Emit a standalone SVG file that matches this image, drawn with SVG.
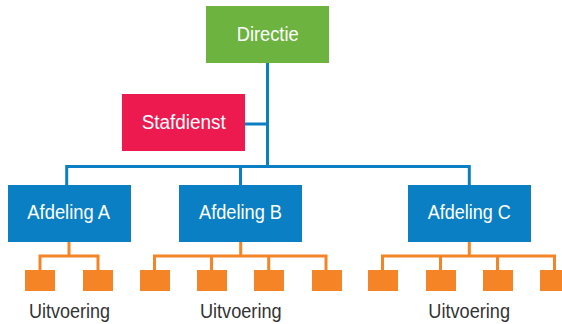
<svg xmlns="http://www.w3.org/2000/svg" width="562" height="324" viewBox="0 0 562 324">
<style>
.box text{font-family:"Liberation Sans",Arial,sans-serif;font-size:20px;fill:#ffffff;text-anchor:middle}
.lbl{font-family:"Liberation Sans",Arial,sans-serif;font-size:20px;fill:#333333;text-anchor:middle}
.blue{fill:none;stroke:#0a7fc4;stroke-width:3}
.orange{fill:none;stroke:#f58426;stroke-width:3}
.unit{fill:#f58426}
</style>
<rect width="562" height="324" fill="#ffffff"/>
<g id="connectors">
<path class="blue" d="M267.5,62 V166.5 M245,124 H267.5 M66.7,166.5 H469.3 M66.7,165 V185 M240.5,165 V185 M469.3,165 V185"/>
<path class="orange" d="M69,241 V256 M40,256 H98 M40,254.5 V270 M98,254.5 V270"/>
<path class="orange" d="M240.7,241 V256 M154.5,256 H327 M154.5,254.5 V270 M211.5,254.5 V270 M268.7,254.5 V270 M326,254.5 V270"/>
<path class="orange" d="M469.3,241 V256 M382.5,256 H555 M382.5,254.5 V270 M440.5,254.5 V270 M497.5,254.5 V270 M554.5,254.5 V270"/>
</g>
<g id="directie" class="box">
<rect x="206" y="6" width="123" height="57" fill="#6db33f"/>
<text x="267.7" y="40.7" textLength="62" lengthAdjust="spacingAndGlyphs">Directie</text>
</g>
<g id="stafdienst" class="box">
<rect x="122" y="94" width="123" height="57" fill="#ec1a4f"/>
<text x="183.7" y="129.3" textLength="84" lengthAdjust="spacingAndGlyphs">Stafdienst</text>
</g>
<g id="afdeling-a" class="box">
<rect x="8" y="185" width="123" height="57" fill="#0a7fc4"/>
<text x="68.7" y="219.3" textLength="82.7" lengthAdjust="spacingAndGlyphs">Afdeling A</text>
</g>
<g id="afdeling-b" class="box">
<rect x="179" y="185" width="123" height="57" fill="#0a7fc4"/>
<text x="240.5" y="219.3" textLength="83" lengthAdjust="spacingAndGlyphs">Afdeling B</text>
</g>
<g id="afdeling-c" class="box">
<rect x="408" y="185" width="123" height="57" fill="#0a7fc4"/>
<text x="469.2" y="219.3" textLength="83" lengthAdjust="spacingAndGlyphs">Afdeling C</text>
</g>
<g id="uitvoering-a">
<rect class="unit" x="25" y="270" width="30" height="21"/>
<rect class="unit" x="83" y="270" width="30" height="21"/>
<text class="lbl" x="69.5" y="318.3" textLength="81" lengthAdjust="spacingAndGlyphs">Uitvoering</text>
</g>
<g id="uitvoering-b">
<rect class="unit" x="140" y="270" width="30" height="21"/>
<rect class="unit" x="197" y="270" width="30" height="21"/>
<rect class="unit" x="254" y="270" width="30" height="21"/>
<rect class="unit" x="312" y="270" width="30" height="21"/>
<text class="lbl" x="240.8" y="318.3" textLength="81.7" lengthAdjust="spacingAndGlyphs">Uitvoering</text>
</g>
<g id="uitvoering-c">
<rect class="unit" x="368" y="270" width="30" height="21"/>
<rect class="unit" x="426" y="270" width="30" height="21"/>
<rect class="unit" x="483" y="270" width="30" height="21"/>
<rect class="unit" x="540" y="270" width="30" height="21"/>
<text class="lbl" x="469.2" y="318.3" textLength="81.7" lengthAdjust="spacingAndGlyphs">Uitvoering</text>
</g>
</svg>
